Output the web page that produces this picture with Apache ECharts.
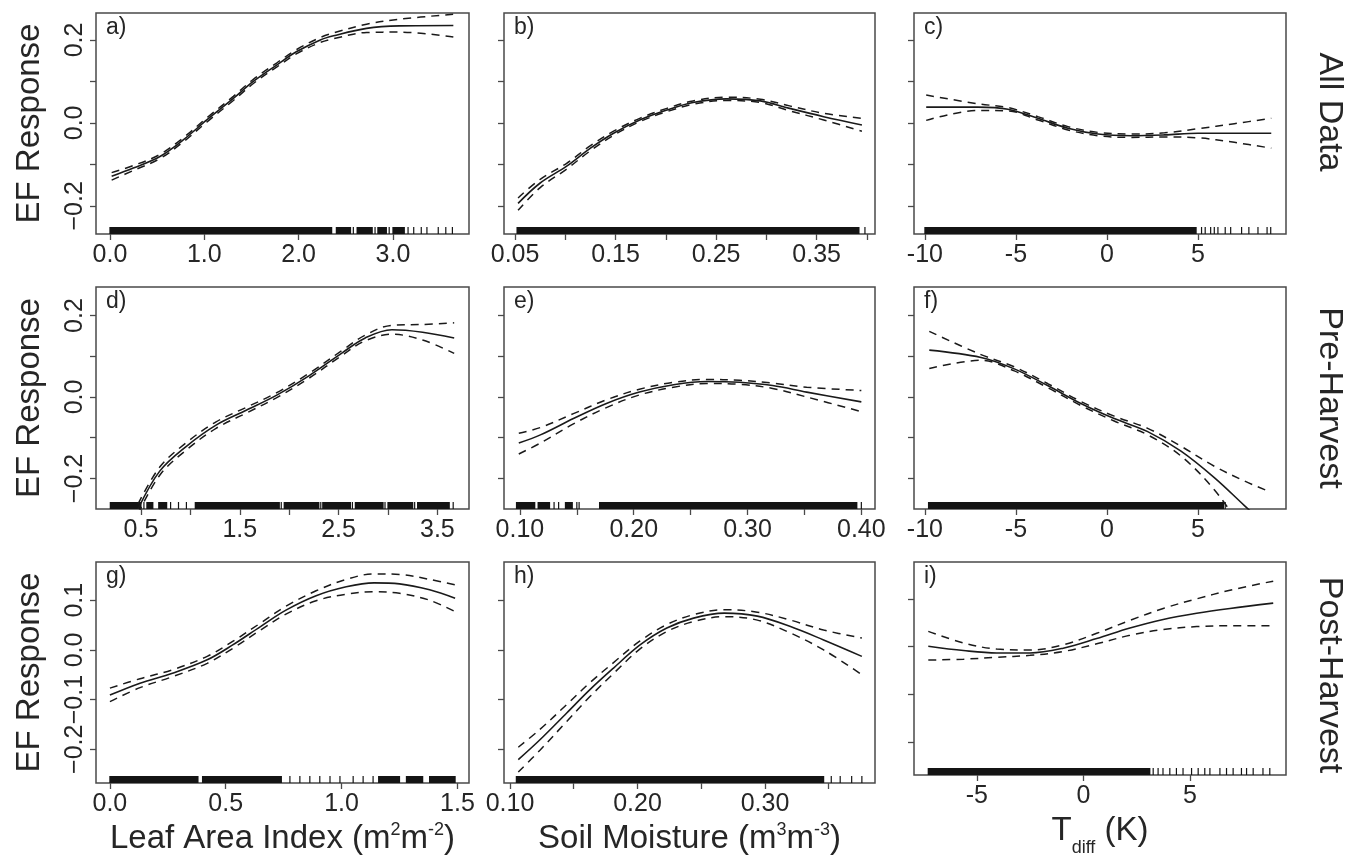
<!DOCTYPE html>
<html><head><meta charset="utf-8">
<script src="https://cdn.jsdelivr.net/npm/echarts@6/dist/echarts.min.js"></script>
<style>html,body{margin:0;padding:0;background:#fff}#c{width:1359px;height:858px}</style>
</head><body><div id="c"></div>
<script>
// ---------------- DATA ----------------
// a) All Data, Leaf Area Index
const aX   = [0.018, 0.247, 0.53, 0.777, 1.026, 1.308, 1.52, 1.77, 1.98, 2.23, 2.37, 2.72, 3.07, 3.64];
const aFit = [-0.129, -0.109, -0.081, -0.041, 0.007, 0.059, 0.100, 0.140, 0.172, 0.200, 0.210, 0.228, 0.234, 0.235];
const aUp  = [-0.120, -0.103, -0.076, -0.036, 0.012, 0.064, 0.105, 0.145, 0.177, 0.206, 0.217, 0.238, 0.250, 0.262];
const aLo  = [-0.138, -0.115, -0.086, -0.046, 0.002, 0.054, 0.095, 0.135, 0.167, 0.194, 0.203, 0.218, 0.219, 0.207];
const aRugDense = [[0.0, 2.35], [2.40, 2.55], [2.62, 2.78], [2.84, 2.93], [3.0, 3.12]];
const aRugTicks = [2.58, 2.81, 2.96, 3.16, 3.22, 3.30, 3.36, 3.48, 3.56, 3.63];
// b) All Data, Soil Moisture
const bX   = [0.053, 0.075, 0.101, 0.125, 0.148, 0.174, 0.201, 0.227, 0.26, 0.294, 0.323, 0.357, 0.395];
const bFit = [-0.194, -0.145, -0.105, -0.061, -0.025, 0.007, 0.031, 0.049, 0.058, 0.053, 0.035, 0.015, -0.005];
const bUp  = [-0.181, -0.136, -0.098, -0.055, -0.020, 0.011, 0.035, 0.053, 0.062, 0.057, 0.041, 0.023, 0.011];
const bLo  = [-0.211, -0.156, -0.112, -0.067, -0.030, 0.003, 0.027, 0.045, 0.054, 0.049, 0.029, 0.007, -0.020];
const bRugDense = [[0.052, 0.392]];
const bRugTicks = [0.398];
// c) All Data, Tdiff
const cX   = [-9.93, -7.09, -5.44, -3.79, -2.14, -0.49, 1.34, 3.17, 5.0, 7.0, 9.03];
const cFit = [0.038, 0.038, 0.033, 0.011, -0.013, -0.027, -0.031, -0.029, -0.025, -0.025, -0.025];
const cUp  = [0.067, 0.046, 0.037, 0.015, -0.009, -0.023, -0.027, -0.024, -0.014, -0.002, 0.011];
const cLo  = [0.006, 0.030, 0.029, 0.007, -0.017, -0.031, -0.035, -0.034, -0.036, -0.047, -0.061];
const cRugDense = [[-10.0, 4.9]];
const cRugTicks = [5.2, 5.4, 5.7, 5.9, 6.1, 6.5, 6.8, 7.4, 7.8, 8.3, 8.8, 9.0];
// d) Pre-Harvest, Leaf Area Index
const dX   = [0.47, 0.69, 0.96, 1.26, 1.57, 1.87, 2.20, 2.54, 2.77, 3.04, 3.35, 3.67];
const dFit = [-0.275, -0.182, -0.121, -0.069, -0.032, 0.004, 0.052, 0.109, 0.145, 0.165, 0.159, 0.145];
const dUp  = [-0.263, -0.172, -0.112, -0.061, -0.025, 0.010, 0.058, 0.115, 0.152, 0.176, 0.178, 0.182];
const dLo  = [-0.287, -0.192, -0.130, -0.077, -0.039, -0.002, 0.046, 0.103, 0.138, 0.154, 0.140, 0.107];
const dRugDense = [[0.19, 0.50], [0.56, 0.62], [0.68, 0.76], [1.05, 1.90], [1.95, 2.30], [2.34, 2.62], [2.67, 2.95], [3.00, 3.25], [3.30, 3.62]];
const dRugTicks = [0.53, 0.80, 0.88, 0.96, 1.92, 2.32, 2.64, 2.97, 3.27, 3.66];
// e) Pre-Harvest, Soil Moisture
const eX   = [0.099, 0.118, 0.147, 0.176, 0.205, 0.235, 0.264, 0.293, 0.322, 0.352, 0.40];
const eFit = [-0.113, -0.093, -0.053, -0.016, 0.012, 0.030, 0.038, 0.036, 0.028, 0.012, -0.012];
const eUp  = [-0.089, -0.075, -0.041, -0.007, 0.019, 0.036, 0.043, 0.041, 0.034, 0.024, 0.016];
const eLo  = [-0.140, -0.113, -0.066, -0.026, 0.005, 0.024, 0.033, 0.031, 0.021, 0.000, -0.036];
const eRugDense = [[0.097, 0.113], [0.116, 0.126], [0.140, 0.146], [0.170, 0.396]];
const eRugTicks = [0.130, 0.134, 0.150, 0.152, 0.400];
// f) Pre-Harvest, Tdiff
const fX   = [-9.76, -6.92, -5.09, -3.26, -1.43, 0.40, 2.24, 4.07, 5.90, 7.54, 8.8];
const fFit = [0.115, 0.097, 0.069, 0.028, -0.016, -0.053, -0.085, -0.133, -0.198, -0.266, -0.318];
const fUp  = [0.161, 0.104, 0.074, 0.033, -0.011, -0.047, -0.077, -0.121, -0.170, -0.206, -0.230];
const fLo  = [0.070, 0.090, 0.064, 0.023, -0.021, -0.059, -0.093, -0.145, -0.228, -0.330, -0.410];
const fRugDense = [[-9.8, 6.4]];
const fRugTicks = [6.5];
// g) Post-Harvest, Leaf Area Index
const gX   = [0.0, 0.13, 0.27, 0.42, 0.53, 0.65, 0.76, 0.89, 1.02, 1.14, 1.25, 1.38, 1.49];
const gFit = [-0.091, -0.067, -0.047, -0.020, 0.010, 0.047, 0.080, 0.109, 0.127, 0.135, 0.133, 0.121, 0.104];
const gUp  = [-0.077, -0.058, -0.040, -0.013, 0.017, 0.054, 0.088, 0.119, 0.142, 0.153, 0.152, 0.142, 0.131];
const gLo  = [-0.104, -0.076, -0.054, -0.027, 0.003, 0.040, 0.072, 0.099, 0.112, 0.117, 0.114, 0.100, 0.077];
const gRugDense = [[0.0, 0.38], [0.40, 0.74], [1.16, 1.25], [1.28, 1.35], [1.38, 1.49]];
const gRugTicks = [0.777, 0.82, 0.863, 0.906, 0.95, 0.993, 1.05, 1.093, 1.136];
// h) Post-Harvest, Soil Moisture
const hX   = [0.1065, 0.1235, 0.1445, 0.1627, 0.181, 0.202, 0.223, 0.244, 0.268, 0.294, 0.320, 0.346, 0.376];
const hFit = [-0.221, -0.181, -0.127, -0.080, -0.037, 0.010, 0.044, 0.064, 0.074, 0.068, 0.047, 0.020, -0.013];
const hUp  = [-0.196, -0.160, -0.110, -0.066, -0.026, 0.018, 0.051, 0.071, 0.081, 0.076, 0.060, 0.040, 0.024];
const hLo  = [-0.246, -0.202, -0.144, -0.094, -0.048, 0.002, 0.037, 0.057, 0.067, 0.060, 0.034, 0.000, -0.050];
const hRugDense = [[0.105, 0.346]];
const hRugTicks = [0.352, 0.359, 0.368, 0.376];
// i) Post-Harvest, Tdiff
const iX   = [-7.28, -5.63, -4.07, -2.51, -0.95, 0.62, 2.18, 3.74, 5.31, 6.87, 8.9];
const iFit = [0.001, -0.008, -0.013, -0.013, -0.003, 0.017, 0.039, 0.057, 0.070, 0.080, 0.091];
const iUp  = [0.032, 0.008, -0.005, -0.007, 0.004, 0.028, 0.055, 0.080, 0.100, 0.118, 0.137];
const iLo  = [-0.028, -0.026, -0.022, -0.018, -0.010, 0.006, 0.024, 0.036, 0.042, 0.044, 0.044];
const iRugDense = [[-7.28, 3.11]];
const iRugTicks = [3.27, 3.5, 3.73, 4.05, 4.36, 4.67, 5.07, 5.38, 5.69, 5.93, 6.40, 6.71, 7.02, 7.41, 7.65, 7.96, 8.42, 8.74];

// axis ranges and ticks
const xRanges = [[-0.148, 3.806], [0.039, 0.408], [-10.6, 9.84],
                 [0.045, 3.82], [0.086, 0.412], [-10.6, 9.84],
                 [-0.06, 1.55], [0.0953, 0.3863], [-7.95, 9.5]];
const xTickVals = [[0, 1, 2, 3], [0.05, 0.10, 0.15, 0.20, 0.25, 0.30, 0.35, 0.40], [-10, -5, 0, 5],
                   [0.5, 1.0, 1.5, 2.0, 2.5, 3.0, 3.5], [0.10, 0.15, 0.20, 0.25, 0.30, 0.35, 0.40], [-10, -5, 0, 5],
                   [0, 0.5, 1.0, 1.5], [0.10, 0.15, 0.20, 0.25, 0.30, 0.35], [-5, 0, 5]];
const xLabelVals = [[0, 1, 2, 3], [0.05, 0.15, 0.25, 0.35], [-10, -5, 0, 5],
                    [0.5, 1.5, 2.5, 3.5], [0.10, 0.20, 0.30, 0.40], [-10, -5, 0, 5],
                    [0, 0.5, 1.0, 1.5], [0.10, 0.20, 0.30], [-5, 0, 5]];
const xDecimals = [1, 2, 0, 1, 2, 0, 1, 2, 0];
const yRanges = [[-0.268, 0.265], [-0.275, 0.27], [-0.268, 0.177]];
const yTickVals = [[-0.2, -0.1, 0, 0.1, 0.2], [-0.2, -0.1, 0, 0.1, 0.2], [-0.2, -0.1, 0, 0.1]];
const yLabelVals = [[-0.2, 0, 0.2], [-0.2, 0, 0.2], [-0.2, -0.1, 0, 0.1]];
const panelLetters = ['a)', 'b)', 'c)', 'd)', 'e)', 'f)', 'g)', 'h)', 'i)'];
const rowNames = ['All Data', 'Pre-Harvest', 'Post-Harvest'];
const xNames = ['{t|Leaf Area Index (m}{s|2}{t|m}{s|-2}{t|)}',
                '{t|Soil Moisture (m}{s|3}{t|m}{s|-3}{t|)}',
                '{t|T}{b|diff}{t| (K)}'];
const yName = 'EF Response';

// ---------------- LAYOUT ----------------
const colLeft = [96, 504, 914], colWidth = [373, 371, 372];
const rowTop = [13, 287, 562], rowHeight = [221, 222, 221];
const rowLabelY = [112, 398, 675];
const FONT = "'Liberation Sans', Arial, Helvetica, sans-serif";
const INK = '#1a1a1a', BOX = '#4a4a4a', TXT = '#262626';

const panels = [
  [aX, aFit, aUp, aLo, aRugDense, aRugTicks],
  [bX, bFit, bUp, bLo, bRugDense, bRugTicks],
  [cX, cFit, cUp, cLo, cRugDense, cRugTicks],
  [dX, dFit, dUp, dLo, dRugDense, dRugTicks],
  [eX, eFit, eUp, eLo, eRugDense, eRugTicks],
  [fX, fFit, fUp, fLo, fRugDense, fRugTicks],
  [gX, gFit, gUp, gLo, gRugDense, gRugTicks],
  [hX, hFit, hUp, hLo, hRugDense, hRugTicks],
  [iX, iFit, iUp, iLo, iRugDense, iRugTicks]
];

function zip(xs, ys) { return xs.map((x, k) => [x, ys[k]]); }
function fmtX(v, d) { return (v < 0 ? '-' : '') + Math.abs(v).toFixed(d); }
function fmtY(v) { return (v < -1e-9 ? '\u2212' : '') + Math.abs(v).toFixed(1); }

function rugItem(params, api) {
  const cs = params.coordSys;
  const p1 = api.coord([api.value(0), 0]);
  const p2 = api.coord([api.value(1), 0]);
  const bottom = cs.y + cs.height;
  const w = Math.max(p2[0] - p1[0], 0) + 1.2;
  return { type: 'rect', shape: { x: p1[0] - 0.6, y: bottom - 7, width: w, height: 7 },
           style: { fill: '#141414' } };
}

const grid = [], xAxis = [], yAxis = [], series = [], title = [];
panels.forEach((P, p) => {
  const r = Math.floor(p / 3), c = p % 3;
  grid.push({ left: colLeft[c], top: rowTop[r], width: colWidth[c], height: rowHeight[r],
              show: true, borderColor: BOX, borderWidth: 1.5, backgroundColor: '#fff' });
  const xa = {
    type: 'value', gridIndex: p, position: 'bottom', min: xRanges[p][0], max: xRanges[p][1],
    axisLine: { show: false, onZero: false }, splitLine: { show: false },
    axisTick: { show: true, customValues: xTickVals[p], length: 6, lineStyle: { color: BOX, width: 1.3 } },
    axisLabel: { customValues: xLabelVals[p], formatter: v => fmtX(v, xDecimals[p]),
                 fontSize: 25, color: TXT, margin: 9, fontFamily: FONT }
  };
  if (r === 2) {
    xa.name = xNames[c];
    xa.nameLocation = 'middle';
    xa.nameGap = 38;
    xa.nameTextStyle = {
      fontFamily: FONT, color: TXT,
      rich: {
        t: { fontSize: 33, fontFamily: FONT, color: TXT, lineHeight: 36 },
        s: { fontSize: 18, fontFamily: FONT, color: TXT, lineHeight: 18, verticalAlign: 'top' },
        b: { fontSize: 18, fontFamily: FONT, color: TXT, lineHeight: 16, verticalAlign: 'bottom', padding: [0, 0, -8, 0] }
      }
    };
  }
  xAxis.push(xa);
  const ya = {
    type: 'value', gridIndex: p, position: 'left', min: yRanges[r][0], max: yRanges[r][1],
    axisLine: { show: false, onZero: false }, splitLine: { show: false },
    axisTick: { show: true, customValues: yTickVals[r], length: 6, lineStyle: { color: BOX, width: 1.3 } },
    axisLabel: { show: c === 0, customValues: yLabelVals[r], formatter: fmtY, rotate: 90,
                 fontSize: 25, color: TXT, margin: 8, fontFamily: FONT }
  };
  if (c === 0) {
    ya.name = yName;
    ya.nameLocation = 'middle';
    ya.nameGap = 50;
    ya.nameRotate = 90;
    ya.nameTextStyle = { fontSize: 33, fontFamily: FONT, color: TXT };
  }
  yAxis.push(ya);
  const [xs, fit, up, lo, dense, ticks] = P;
  series.push({ type: 'line', xAxisIndex: p, yAxisIndex: p, data: zip(xs, fit), smooth: 0.35,
                symbol: 'none', lineStyle: { color: INK, width: 1.6 }, z: 3 });
  series.push({ type: 'line', xAxisIndex: p, yAxisIndex: p, data: zip(xs, up), smooth: 0.35,
                symbol: 'none', lineStyle: { color: INK, width: 1.5, type: [8, 6] }, z: 3 });
  series.push({ type: 'line', xAxisIndex: p, yAxisIndex: p, data: zip(xs, lo), smooth: 0.35,
                symbol: 'none', lineStyle: { color: INK, width: 1.5, type: [8, 6] }, z: 3 });
  const rugData = dense.map(d => [d[0], d[1], 0]).concat(ticks.map(t => [t, t, 0]));
  series.push({ type: 'custom', xAxisIndex: p, yAxisIndex: p, data: rugData,
                encode: { x: [0, 1], y: 2 }, renderItem: rugItem, z: 2 });
  title.push({ text: panelLetters[p], left: colLeft[c] + 10, top: rowTop[r] + 3, padding: 0,
               textStyle: { fontSize: 23, fontWeight: 'normal', color: TXT, fontFamily: FONT } });
});

const graphic = rowNames.map((t, r) => ({
  type: 'text', x: 1329, y: rowLabelY[r], rotation: -Math.PI / 2,
  style: { text: t, fontSize: 34, fontFamily: FONT, fill: TXT, align: 'center', verticalAlign: 'middle' }
}));

const chart = echarts.init(document.getElementById('c'), null, { renderer: 'canvas' });
chart.setOption({
  animation: false, backgroundColor: '#fff',
  title, grid, xAxis, yAxis, series, graphic
});
</script>
</body></html>
